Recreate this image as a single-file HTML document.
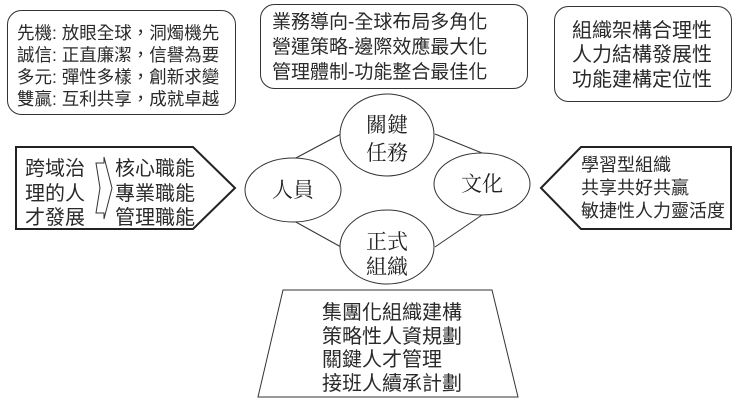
<!DOCTYPE html>
<html><head><meta charset="utf-8"><style>
html,body{margin:0;padding:0;background:#fff;}
svg{display:block;}
.s{font-family:"Liberation Sans","Noto Sans CJK TC",sans-serif;fill:#2a2a2a;}
.r{font-family:"Liberation Serif","Noto Serif CJK SC",serif;fill:#222;font-size:21px;}
</style></head><body>
<svg width="738" height="405" viewBox="0 0 738 405" xmlns="http://www.w3.org/2000/svg">
<g fill="none" stroke="#333" stroke-width="1">
<rect x="7.5" y="10.5" width="228" height="104" rx="14"/>
<rect x="260.5" y="4.5" width="267" height="84" rx="14"/>
<rect x="554.5" y="6.5" width="177" height="95" rx="14"/>
<line x1="294" y1="159" x2="341" y2="134"/>
<line x1="294" y1="221" x2="341" y2="247"/>
<line x1="435" y1="134" x2="482" y2="153"/>
<line x1="482" y1="215" x2="435" y2="247"/>
<polygon points="258,397 283,290 492,290 518,397"/>
</g>
<g fill="#fff" stroke="#333" stroke-width="1">
<ellipse cx="387" cy="135" rx="47" ry="41"/>
<ellipse cx="293" cy="190" rx="48" ry="32"/>
<ellipse cx="482" cy="184" rx="48" ry="31"/>
<ellipse cx="387" cy="247" rx="47" ry="37"/>
</g>
<polygon points="16,147 193,147 235,188 193,229 16,229" fill="#fff" stroke="#222" stroke-width="2"/>
<polygon points="541,188 581,147 731,147 731,229 581,229" fill="#fff" stroke="#222" stroke-width="2"/>
<path d="M96,163 L104,163 L104,157 L112,188 L104,219 L104,213 L96,213 L100,188 Z" fill="none" stroke="#333"/>
<g class="s" font-size="17.5">
<text x="17" y="39">先機: 放眼全球，洞燭機先</text>
<text x="17" y="61">誠信: 正直廉潔，信譽為要</text>
<text x="17" y="83">多元: 彈性多樣，創新求變</text>
<text x="17" y="105">雙贏: 互利共享，成就卓越</text>
</g>
<g class="s" font-size="19">
<text x="272" y="28">業務導向-全球布局多角化</text>
<text x="272" y="53">營運策略-邊際效應最大化</text>
<text x="272" y="78">管理體制-功能整合最佳化</text>
</g>
<g class="s" font-size="20">
<text x="572" y="37">組織架構合理性</text>
<text x="572" y="61">人力結構發展性</text>
<text x="572" y="86">功能建構定位性</text>
<text x="25" y="175">跨域治</text>
<text x="25" y="200">理的人</text>
<text x="25" y="224">才發展</text>
<text x="115" y="175">核心職能</text>
<text x="115" y="200">專業職能</text>
<text x="115" y="224">管理職能</text>
<text x="322" y="319">集團化組織建構</text>
<text x="322" y="343">策略性人資規劃</text>
<text x="322" y="366">關鍵人才管理</text>
<text x="322" y="390">接班人續承計劃</text>
</g>
<g class="s" font-size="18">
<text x="581" y="171">學習型組織</text>
<text x="581" y="194">共享共好共贏</text>
<text x="581" y="217">敏捷性人力靈活度</text>
</g>
<g class="r" text-anchor="middle">
<text x="387" y="132">關鍵</text>
<text x="387" y="160">任務</text>
<text x="293" y="197">人員</text>
<text x="482" y="191">文化</text>
<text x="387" y="249">正式</text>
<text x="387" y="274">組織</text>
</g>
</svg>
</body></html>
